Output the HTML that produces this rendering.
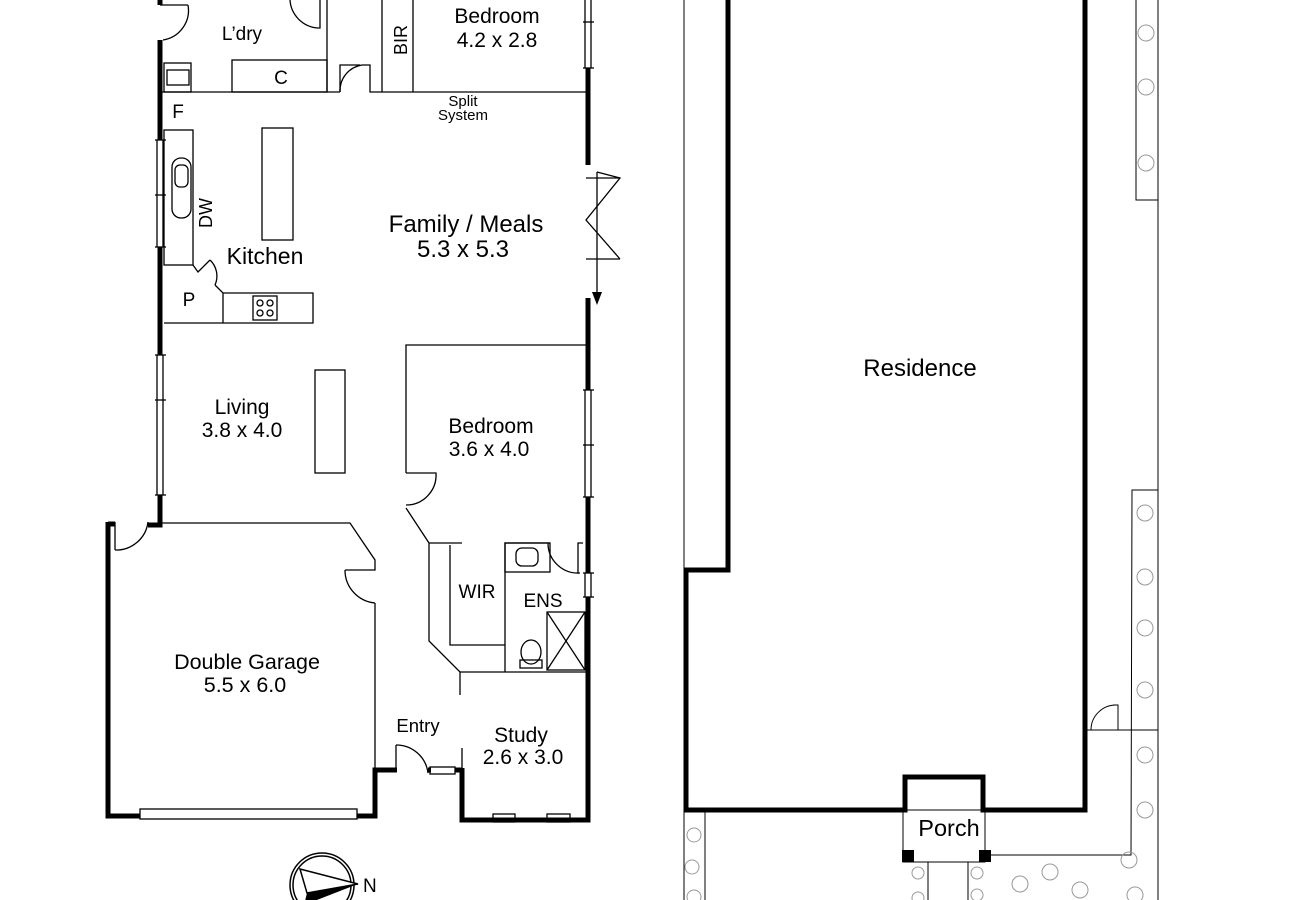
<!DOCTYPE html>
<html><head><style>body{margin:0;background:#fff}svg{display:block}text{font-family:"Liberation Sans",Arial,sans-serif;fill:#000}</style></head>
<body>
<svg width="1300" height="900" viewBox="0 0 1300 900" xmlns="http://www.w3.org/2000/svg">
<g fill="none" stroke="#000" stroke-width="1.3">
<polyline points="160,5 188,5"/>
<path d="M163,40 A30,30 0 0 0 188,5"/>
<path d="M290,0 A30,30 0 0 0 318,28"/>
<polyline points="318,28 320,28 320,0"/>
<line x1="160" y1="92" x2="340" y2="92"/>
<polyline points="340,92 340,65 360,65"/>
<path d="M340,92 A26,26 0 0 1 362,65"/>
<polyline points="362,65 370,65 370,92 588,92"/>
<line x1="382" y1="0" x2="382" y2="92"/><line x1="413" y1="0" x2="413" y2="92"/>
<rect x="232" y="60" width="95" height="32"/>
<rect x="164" y="63" width="27" height="29"/><rect x="167" y="70" width="22" height="15"/>
<line x1="327" y1="0" x2="327" y2="92"/>
<rect x="164" y="130" width="29" height="135"/>
<rect x="172" y="158" width="19" height="60" rx="9"/>
<rect x="175" y="165" width="13" height="22" rx="5"/>
<rect x="262" y="128" width="31" height="112"/>
<polyline points="193,265 198,272 210,260"/>
<path d="M210,260 A22,22 0 0 1 215,285"/>
<polyline points="215,285 223,293 313,293 313,323 164,323"/>
<line x1="223" y1="293" x2="223" y2="323"/>
<rect x="253" y="296" width="24" height="24"/>
<circle cx="260" cy="303" r="3"/><circle cx="270" cy="303" r="3"/><circle cx="260" cy="313" r="3"/><circle cx="270" cy="313" r="3"/>
<rect x="315" y="370" width="30" height="103"/>
<line x1="157" y1="140" x2="157" y2="247"/><line x1="163" y1="140" x2="163" y2="247"/>
<line x1="155" y1="140" x2="166" y2="140"/><line x1="155" y1="195" x2="166" y2="195"/><line x1="155" y1="247" x2="166" y2="247"/>
<line x1="157" y1="355" x2="157" y2="495"/><line x1="163" y1="355" x2="163" y2="495"/>
<line x1="155" y1="355" x2="166" y2="355"/><line x1="155" y1="400" x2="166" y2="400"/><line x1="155" y1="495" x2="166" y2="495"/>
<line x1="585" y1="0" x2="585" y2="68"/><line x1="591" y1="0" x2="591" y2="68"/><line x1="583" y1="22" x2="594" y2="22"/><line x1="583" y1="68" x2="594" y2="68"/>
<line x1="585" y1="390" x2="585" y2="497"/><line x1="591" y1="390" x2="591" y2="497"/><line x1="583" y1="390" x2="594" y2="390"/><line x1="583" y1="445" x2="594" y2="445"/><line x1="583" y1="497" x2="594" y2="497"/>
<line x1="585" y1="573" x2="585" y2="597"/><line x1="591" y1="573" x2="591" y2="597"/><line x1="583" y1="573" x2="594" y2="573"/><line x1="583" y1="597" x2="594" y2="597"/>
<line x1="586" y1="178" x2="620" y2="178"/><line x1="586" y1="259" x2="620" y2="259"/>
<polyline points="597,172 620,178 586,220 620,259"/>
<line x1="597" y1="172" x2="597" y2="292"/>
<polyline points="588,345 406,345 406,473"/>
<path d="M406,505 A30,30 0 0 0 436,473 L406,473"/>
<polyline points="406,508 429,543 429,641 460,672 588,672"/>
<polyline points="429,543 462,543"/>
<polyline points="450,545 450,645 505,645"/>
<polyline points="505,672 505,543 550,543"/>
<rect x="505" y="543" width="45" height="29"/>
<rect x="516" y="548" width="22" height="18" rx="6"/>
<path d="M548,543 A30,30 0 0 0 580,573"/>
<polyline points="578,573 578,543 583,543"/>
<rect x="547" y="612" width="38" height="58"/>
<line x1="547" y1="612" x2="585" y2="670"/><line x1="585" y1="612" x2="547" y2="670"/>
<ellipse cx="531" cy="652" rx="10" ry="12"/><rect x="520" y="660" width="22" height="8"/>
<line x1="460" y1="672" x2="460" y2="695"/>
<polyline points="160,523 350,523 375,560 375,570 345,570"/>
<path d="M345,570 A33,33 0 0 0 375,603"/>
<line x1="375" y1="603" x2="375" y2="770"/>
<path d="M115,550 A32,32 0 0 0 148,522"/><line x1="115" y1="522" x2="115" y2="550"/>
<rect x="140" y="809" width="217" height="10"/>
<polyline points="396,770 396,745"/>
<path d="M396,745 A32,32 0 0 1 428,773"/>
<rect x="430" y="767" width="25" height="7"/>
<line x1="462" y1="748" x2="462" y2="770"/>
<rect x="493" y="814" width="22" height="8"/><rect x="547" y="814" width="23" height="8"/>
</g>
<g fill="none" stroke="#000" stroke-width="5">
<polyline points="160,0 160,5"/><polyline points="160,40 160,140"/><polyline points="160,247 160,355"/><polyline points="160,495 160,525 148,525"/>
<polyline points="588,68 588,165"/><polyline points="588,298 588,390"/><polyline points="588,497 588,573"/><polyline points="588,597 588,820 462,820 462,768"/>
<polyline points="108,522 108,816 140,816"/><polyline points="108,524 115,524"/>
<polyline points="357,816 375,816 375,770 397,770"/>
<line x1="455" y1="770" x2="462" y2="770"/>
<line x1="428" y1="770" x2="431" y2="770"/>
</g>
<path d="M592,292 L602,292 L597,305 Z" fill="#000"/>
<g fill="none" stroke="#000" stroke-width="1.5"><circle cx="322" cy="885" r="32"/><circle cx="322" cy="885" r="29"/></g>
<path d="M300,869 L358,884 L307,893 Z" fill="#fff" stroke="#000" stroke-width="1.5"/>
<path d="M307,893 L358,884 L304,905 Z" fill="#000"/>
<text x="363" y="892" font-size="19">N</text>
<g fill="none" stroke="#000" stroke-width="1">
<line x1="684" y1="0" x2="684" y2="900"/><line x1="705" y1="810" x2="705" y2="900"/>
<line x1="1158" y1="0" x2="1158" y2="900"/>
<polyline points="1136,0 1136,200 1158,200"/>
<polyline points="1158,490 1132,490 1131,855 990,855"/>
<polyline points="1085,730 1118,730 1118,705 1113,705"/>
<line x1="1118" y1="730" x2="1158" y2="730"/>
<path d="M1091,730 A25,25 0 0 1 1116,705"/>
<rect x="903" y="810" width="82" height="52"/>
<line x1="928" y1="862" x2="928" y2="900"/><line x1="968" y1="862" x2="968" y2="900"/>
</g>
<g fill="none" stroke="#000" stroke-width="5">
<polyline points="728,0 728,570 686,570 686,810 905,810 905,777 983,777 983,810 1085,810 1085,0"/>
</g>
<rect x="902" y="850" width="12" height="12" fill="#000"/><rect x="979" y="850" width="12" height="12" fill="#000"/>
<g fill="none" stroke="#999" stroke-width="1">
<circle cx="1146" cy="33" r="8"/><circle cx="1146" cy="87" r="8"/><circle cx="1146" cy="163" r="8"/>
<circle cx="1145" cy="513" r="8"/><circle cx="1145" cy="577" r="8"/><circle cx="1145" cy="628" r="8"/><circle cx="1145" cy="690" r="8"/>
<circle cx="1145" cy="755" r="8"/><circle cx="1145" cy="810" r="8"/><circle cx="1129" cy="860" r="8"/>
<circle cx="1020" cy="884" r="8"/><circle cx="1050" cy="872" r="8"/><circle cx="1080" cy="890" r="8"/><circle cx="1135" cy="895" r="8"/>
<circle cx="694" cy="835" r="7"/><circle cx="692" cy="867" r="7"/><circle cx="694" cy="897" r="7"/>
<circle cx="918" cy="873" r="6"/><circle cx="977" cy="873" r="6"/><circle cx="977" cy="895" r="6"/><circle cx="918" cy="898" r="6"/>
</g>
<g text-anchor="middle">
<text x="497" y="23" font-size="21">Bedroom</text><text x="497" y="47" font-size="21">4.2 x 2.8</text>
<text x="242" y="40" font-size="19">L’dry</text>
<text x="281" y="84" font-size="19">C</text>
<text x="407" y="40" font-size="18" transform="rotate(-90 407 40)">BIR</text>
<text x="463" y="106" font-size="15">Split</text><text x="463" y="120" font-size="15">System</text>
<text x="178" y="118" font-size="19">F</text>
<text x="212" y="213" font-size="18" transform="rotate(-90 212 213)">DW</text>
<text x="265" y="264" font-size="23">Kitchen</text>
<text x="189" y="306" font-size="19">P</text>
<text x="466" y="232" font-size="24">Family / Meals</text><text x="463" y="257" font-size="24">5.3 x 5.3</text>
<text x="242" y="414" font-size="21">Living</text><text x="242" y="437" font-size="21">3.8 x 4.0</text>
<text x="491" y="433" font-size="21">Bedroom</text><text x="489" y="456" font-size="21">3.6 x 4.0</text>
<text x="477" y="598" font-size="19">WIR</text>
<text x="543" y="607" font-size="19">ENS</text>
<text x="247" y="669" font-size="21.5">Double Garage</text><text x="245" y="692" font-size="21.5">5.5 x 6.0</text>
<text x="418" y="732" font-size="18.5">Entry</text>
<text x="521" y="742" font-size="21">Study</text><text x="523" y="764" font-size="21">2.6 x 3.0</text>
<text x="920" y="376" font-size="24">Residence</text>
<text x="949" y="836" font-size="23.5">Porch</text>
</g>
</svg>
</body></html>
